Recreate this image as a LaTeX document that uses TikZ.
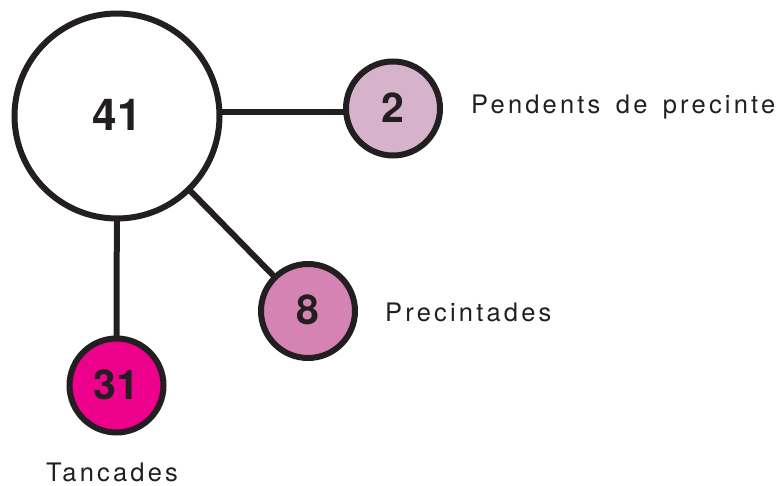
\documentclass[tikz,border=0pt]{standalone}
\usepackage{fontspec}
\setmainfont{TeX Gyre Heros}
\newfontfamily\labelfont[LetterSpace=12.5,WordSpace=1.5]{TeX Gyre Heros}
\usetikzlibrary{backgrounds}
\definecolor{ink}{HTML}{231F20}
\definecolor{fillA}{HTML}{D7B3CB}
\definecolor{fillB}{HTML}{D583B2}
\definecolor{fillC}{HTML}{EC008C}
\tikzset{
  bub/.style={circle, draw=ink, line width=6pt, inner sep=0pt, outer sep=0pt, text=ink, font=\fontsize{41}{41}\selectfont\bfseries},
  link/.style={draw=ink, line width=6pt},
  lab/.style={anchor=base west, inner sep=0pt, text=ink, font=\fontsize{25.5}{25.5}\selectfont\labelfont},
}
\begin{document}
\begin{tikzpicture}[x=1pt,y=-1pt]
\useasboundingbox (0,0) rectangle (780,486);
\node[bub, minimum size=205pt, font=\fontsize{44}{44}\selectfont\bfseries] (big) at (117,116) {\raisebox{2.5pt}{41}};
\node[bub, minimum size=94pt, fill=fillA] (s2) at (393,108.5) {\raisebox{2pt}{2}};
\node[bub, minimum size=94pt, fill=fillB] (s8) at (308,311) {\raisebox{2pt}{8}};
\node[bub, minimum size=94pt, fill=fillC] (s31) at (116.5,385.5) {\raisebox{2.5pt}{31}};
\coordinate (h2) at ([yshift=-4pt]s2.west);
\begin{scope}[on background layer]
\draw[link] (h2) -- (h2 -| big.east);
\draw[link] (big) -- (s8);
\draw[link] (big) -- (s31);
\end{scope}
\node[lab] (l2) at (471,113.3) {Pendents de precinte};
\node[lab] (l8) at (385,321.7) {Precintades};
\node[lab] (l31) at (46,481.5) {Tancades};
\end{tikzpicture}
\end{document}
